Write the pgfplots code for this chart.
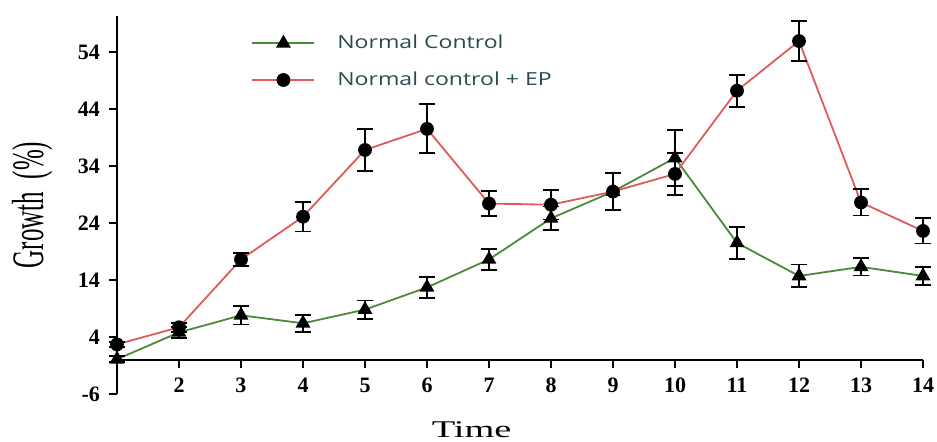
\documentclass[border=0pt]{standalone}
\usepackage{fontspec}
\setmainfont{Liberation Serif}
\newfontfamily\legendfont{Open Sans}
\usepackage{graphicx}
\usepackage{pgfplots}
\pgfplotsset{compat=1.18}

\definecolor{ncgreen}{HTML}{4A8A3A}
\definecolor{epred}{HTML}{E05A5A}
\definecolor{legtext}{HTML}{2A4A50}

\begin{document}
\begin{tikzpicture}
\begin{axis}[
    name=ax,
    scale only axis,
    width=403pt, height=189pt,
    xmin=1, xmax=14,
    ymin=-6, ymax=60.3,
    axis x line=middle,
    axis y line=left,
    axis line style={-, line width=1pt, black},
    xtick={1,...,14},
    ytick={-6,4,...,54},
    tick align=outside,
    major tick length=4pt,
    tick style={line width=1pt, black},
    /pgf/number format/assume math mode=true,
    ticklabel style={font=\fontsize{11}{11}\selectfont\bfseries},
    xticklabel style={yshift=-1.5pt},
    yticklabel style={xshift=-1pt},
    xlabel={\scalebox{1.6}[1]{Time}},
    xlabel style={font=\fontsize{12}{12}\selectfont, at={(axis description cs:0.44,-0.095)}, anchor=center},
    ylabel={\scalebox{1}[1.8]{Growth\ \ (\%)}},
    ylabel style={font=\fontsize{12.5}{13}\selectfont, at={(axis description cs:-0.105,0.5)}, anchor=center, rotate=0},
    legend style={at={(axis description cs:0.159,0.972)}, anchor=north west,
        draw=none, fill=none, font=\legendfont\fontsize{9}{10}\selectfont,
        text=legtext, row sep=6pt,
        /tikz/column 1/.style={column sep=9pt}},
    legend cell align=left,
    legend image code/.code={
        \draw[mark repeat=2, mark phase=2] plot coordinates {(0pt,0pt) (15.5pt,0pt) (31pt,0pt)};
    },
    clip=false,
]
\addplot[ncgreen, line width=0.9pt, mark=triangle*, mark size=3.4pt,
    mark options={fill=black, draw=black, solid},
    error bars/.cd, y dir=both, y explicit,
    error bar style={black, line width=0.9pt},
    error mark options={rotate=90, mark size=4pt, line width=0.9pt, black}]
coordinates {
    (1,0.1) +- (0,0.5)
    (2,4.8) +- (0,1.0)
    (3,7.8) +- (0,1.6)
    (4,6.4) +- (0,1.5)
    (5,8.8) +- (0,1.6)
    (6,12.7) +- (0,1.8)
    (7,17.6) +- (0,1.8)
    (8,24.8) +- (0,2.1)
    (9,29.5) +- (0,3.2)
    (10,35.4) +- (0,4.9)
    (11,20.5) +- (0,2.8)
    (12,14.7) +- (0,2.0)
    (13,16.3) +- (0,1.5)
    (14,14.7) +- (0,1.6)
};
\addlegendentry{\scalebox{1.28}[1]{Normal Control}}
\addplot[epred, line width=0.9pt, mark=*, mark size=3pt,
    mark options={fill=black, draw=black, solid},
    error bars/.cd, y dir=both, y explicit,
    error bar style={black, line width=0.9pt},
    error mark options={rotate=90, mark size=4pt, line width=0.9pt, black}]
coordinates {
    (1,2.7) +- (0,0.4)
    (2,5.7) +- (0,0.8)
    (3,17.6) +- (0,1.1)
    (4,25.1) +- (0,2.6)
    (5,36.8) +- (0,3.7)
    (6,40.5) +- (0,4.3)
    (7,27.4) +- (0,2.2)
    (8,27.2) +- (0,2.6)
    (9,29.5) +- (0,3.2)
    (10,32.6) +- (0,3.7)
    (11,47.2) +- (0,2.8)
    (12,55.9) +- (0,3.5)
    (13,27.6) +- (0,2.3)
    (14,22.6) +- (0,2.2)
};
\addlegendentry{\scalebox{1.28}[1]{Normal control + EP}}
\end{axis}
\pgfresetboundingbox
\path ([shift={(-58.5pt,-24pt)}]ax.south west) rectangle ([shift={(410pt,197pt)}]ax.south west);
\end{tikzpicture}
\end{document}
